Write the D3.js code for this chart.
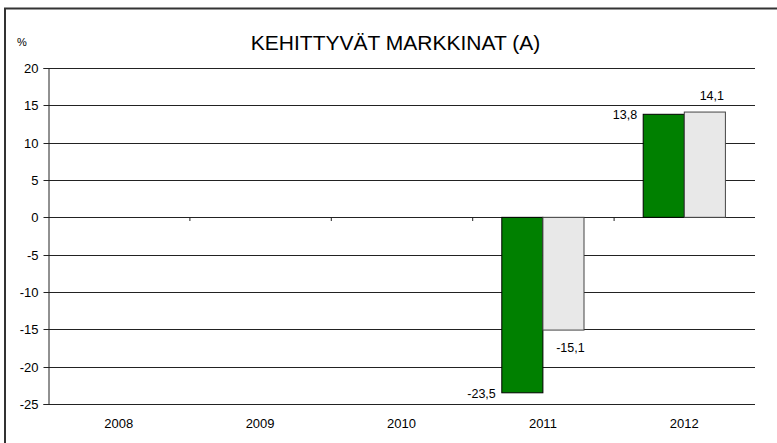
<!DOCTYPE html>
<html>
<head>
<meta charset="utf-8">
<script src="https://cdn.jsdelivr.net/npm/d3@7"></script>
<style>
  body { margin: 0; background: #fff; }
  text { font-family: "Liberation Sans", Arial, sans-serif; fill: #000; }
</style>
</head>
<body>
<div id="container"></div>
<script>
const canvasWidth = 777;
const canvasHeight = 443;

// data
let years = ['2008', '2009', '2010', '2011', '2012'];
let seriesNames = ['a', 'b'];
let seriesA = [null, null, null, -23.5, 13.8];
let seriesB = [null, null, null, -15.1, 14.1];
let yTicks = [-25, -20, -15, -10, -5, 0, 5, 10, 15, 20];

let plotLeft = 48;
let plotRight = 755;
let plotTop = 68;
let plotBottom = 404;

// finnish style numbers, plain hyphen for minus
let fi = d3.formatLocale({decimal: ',', thousands: ' ', grouping: [3], currency: ['', ' €'], minus: '-'});

let svg = d3.select('#container')
  .append('svg')
  .attr('width', canvasWidth)
  .attr('height', canvasHeight);

// outer frame (only left and top visible)
svg.append('rect')
  .attr('x', 5)
  .attr('y', 8.5)
  .attr('width', 800)
  .attr('height', 500)
  .attr('fill', 'none')
  .attr('stroke', '#333')
  .attr('stroke-width', 2);

let x = d3.scaleBand().domain(years).range([plotLeft, plotRight]).paddingInner(0).paddingOuter(0);
let xInner = d3.scaleBand().domain(seriesNames).range([0, x.bandwidth()]).paddingOuter(0.72).paddingInner(0);
let y = d3.scaleLinear().domain([-25, 20]).range([plotBottom, plotTop]);

// gridlines
svg.append('g').selectAll('line').data(yTicks).enter()
  .append('line')
  .attr('x1', plotLeft)
  .attr('x2', plotRight)
  .attr('y1', d => Math.round(y(d)) + 0.5)
  .attr('y2', d => Math.round(y(d)) + 0.5)
  .attr('stroke', '#222')
  .attr('stroke-width', 1);

// y axis
let yAxis = d3.axisLeft(y).tickValues(yTicks).tickSize(5).tickPadding(5).tickFormat(fi.format('d'));
let yg = svg.append('g')
  .attr('transform', 'translate(' + (plotLeft + 0.5) + ',0)')
  .call(yAxis);
yg.select('.domain').attr('stroke', '#222');
yg.selectAll('.tick line').attr('stroke', '#222');
yg.selectAll('.tick text').style('font-size', '13px').attr('fill', '#000');
yg.selectAll('.tick').attr('transform', d => 'translate(0,' + (Math.round(y(d)) + 0.5) + ')');

// x labels
svg.append('g').selectAll('text').data(years).enter()
  .append('text')
  .attr('x', d => x(d) + x.bandwidth() / 2)
  .attr('y', 428)
  .attr('text-anchor', 'middle')
  .style('font-size', '13px')
  .text(d => d);

// small tick on the zero line between categories
svg.append('g').selectAll('line').data(years.slice(1)).enter()
  .append('line')
  .attr('x1', d => x(d) + 0.5)
  .attr('x2', d => x(d) + 0.5)
  .attr('y1', Math.round(y(0)) + 0.5)
  .attr('y2', Math.round(y(0)) + 4)
  .attr('stroke', '#222');

let bars = [];
years.forEach(function(yr, i) {
  if (seriesA[i] !== null) bars.push({year: yr, s: 'a', v: seriesA[i]});
  if (seriesB[i] !== null) bars.push({year: yr, s: 'b', v: seriesB[i]});
});

svg.append('g').selectAll('rect').data(bars).enter()
  .append('rect')
  .attr('x', d => x(d.year) + xInner(d.s))
  .attr('width', xInner.bandwidth())
  .attr('y', d => y(Math.max(0, d.v)))
  .attr('height', d => Math.abs(y(d.v) - y(0)))
  .attr('fill', d => d.s === 'a' ? '#008000' : '#e8e8e8')
  .attr('stroke', d => d.s === 'a' ? '#000' : '#444')
  .attr('stroke-width', 1);

let fmt = fi.format('.1f');

function labelX(d) {
  let bx = x(d.year) + xInner(d.s);
  if (d.s === 'a') return bx - 6;
  return bx + xInner.bandwidth() / 2 + 7;
}

function labelY(d) {
  if (d.s === 'a') return y(d.v) + 5;
  return d.v < 0 ? y(d.v) + 22 : y(d.v) - 12;
}

svg.append('g').selectAll('text').data(bars).enter()
  .append('text')
  .attr('x', labelX)
  .attr('y', labelY)
  .attr('text-anchor', d => d.s === 'a' ? 'end' : 'middle')
  .style('font-size', '12.5px')
  .text(d => fmt(d.v));

// titles
svg.append('text')
  .attr('x', 395.5)
  .attr('y', 50)
  .attr('text-anchor', 'middle')
  .style('font-size', '21px')
  .text('KEHITTYVÄT MARKKINAT (A)');

svg.append('text')
  .attr('x', 17)
  .attr('y', 46)
  .style('font-size', '11px')
  .text('%');
</script>
</body>
</html>
